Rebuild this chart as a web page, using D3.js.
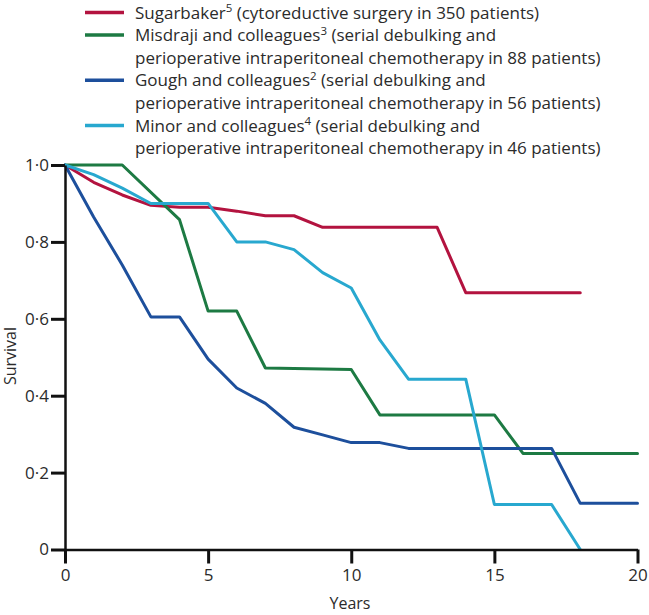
<!DOCTYPE html>
<html>
<head>
<meta charset="utf-8">
<script src="https://cdn.jsdelivr.net/npm/d3@7"></script>
<style>
  body { margin: 0; background: #fff; }
  svg text { font-family: "Open Sans", "Noto Sans", sans-serif; fill: #2b2b2b; }
</style>
</head>
<body>
<svg id="chart" width="649" height="615"></svg>
<script>
// ---- data ----
const sugarbakerYears  = [0, 1, 2, 3, 4, 5, 6, 7, 8, 9, 13, 14, 18];
const sugarbakerValues = [1.0, 0.955, 0.922, 0.895, 0.89, 0.89, 0.88, 0.868, 0.868, 0.838, 0.838, 0.668, 0.668];

const misdrajiYears  = [0, 2, 4, 5, 6, 7, 10, 11, 15, 16, 20];
const misdrajiValues = [1.0, 1.0, 0.858, 0.62, 0.62, 0.472, 0.468, 0.35, 0.35, 0.25, 0.25];

const goughYears  = [0, 1, 2, 3, 4, 5, 6, 7, 8, 9, 10, 11, 12, 17, 18, 20];
const goughValues = [1.0, 0.865, 0.74, 0.605, 0.605, 0.495, 0.42, 0.38, 0.318, 0.298, 0.278, 0.278, 0.263, 0.263, 0.12, 0.12];

const minorYears  = [0, 1, 2, 3, 5, 6, 7, 8, 9, 10, 11, 12, 14, 15, 17, 18];
const minorValues = [1.0, 0.975, 0.94, 0.9, 0.9, 0.8, 0.8, 0.78, 0.72, 0.68, 0.545, 0.443, 0.443, 0.117, 0.117, 0.0];

const seriesNames = ["Sugarbaker", "Misdraji and colleagues", "Gough and colleagues", "Minor and colleagues"];
const seriesRefs = ["5", "3", "2", "4"];
const seriesColors = ["#b3133f", "#1d7a43", "#1d4f9c", "#28a8cf"];
const legendLines = [
  ["(cytoreductive surgery in 350 patients)"],
  ["(serial debulking and", "perioperative intraperitoneal chemotherapy in 88 patients)"],
  ["(serial debulking and", "perioperative intraperitoneal chemotherapy in 56 patients)"],
  ["(serial debulking and", "perioperative intraperitoneal chemotherapy in 46 patients)"]
];

const xTicks = [0, 5, 10, 15, 20];
const yTicks = [0, 0.2, 0.4, 0.6, 0.8, 1.0];
const yTickLabels = ["0", "0·2", "0·4", "0·6", "0·8", "1·0"];
const xTitle = "Years";
const yTitle = "Survival";

// ---- chart ----
const svg = d3.select("#chart");
const x = d3.scaleLinear().domain([0, 20]).range([65, 637.5]);
const y = d3.scaleLinear().domain([0, 1]).range([549.5, 165]);

const series = [
  sugarbakerYears.map((t, i) => [t, sugarbakerValues[i]]),
  misdrajiYears.map((t, i) => [t, misdrajiValues[i]]),
  goughYears.map((t, i) => [t, goughValues[i]]),
  minorYears.map((t, i) => [t, minorValues[i]])
];

const line = d3.line().x(d => x(d[0])).y(d => y(d[1]));

[0, 1, 2, 3].forEach(i => {
  svg.append("path")
    .datum(series[i])
    .attr("fill", "none")
    .attr("stroke", seriesColors[i])
    .attr("stroke-width", 3)
    .attr("stroke-linejoin", "round")
    .attr("stroke-linecap", "round")
    .attr("d", line);
});

// axes
const xAxis = d3.axisBottom(x).tickValues(xTicks).tickSize(14).tickSizeOuter(0).tickPadding(5).tickFormat(d3.format("d"));
const gx = svg.append("g").attr("transform", `translate(0,${y(0)})`).call(xAxis);
gx.select(".domain").attr("stroke", "#111").attr("stroke-width", 2.5);
gx.selectAll(".tick line").attr("stroke", "#111").attr("stroke-width", 3);
gx.selectAll(".tick text").attr("font-size", 17).attr("font-family", "'Open Sans', sans-serif").attr("fill", "#2b2b2b");

const yAxis = d3.axisLeft(y).tickValues(yTicks).tickSize(14).tickSizeOuter(0).tickPadding(2)
  .tickFormat((d, i) => yTickLabels[i]);
const gy = svg.append("g").attr("transform", `translate(${x(0)},0)`).call(yAxis);
gy.select(".domain").attr("stroke", "#111").attr("stroke-width", 2.5);
gy.selectAll(".tick line").attr("stroke", "#111").attr("stroke-width", 3);
gy.selectAll(".tick text").attr("font-size", 17).attr("font-family", "'Open Sans', sans-serif").attr("fill", "#2b2b2b");

// axis titles
svg.append("text").attr("x", 350).attr("y", 609).attr("text-anchor", "middle")
  .attr("font-size", 16).text(xTitle);
svg.append("text").attr("transform", "translate(16,356) rotate(-90)").attr("text-anchor", "middle")
  .attr("font-size", 16).text(yTitle);

// legend
const lineH = 22.6;
const fs = 17;
let row = 0;
seriesNames.forEach((name, i) => {
  const cy = 12.5 + row * lineH;
  svg.append("line").attr("x1", 85).attr("x2", 124).attr("y1", cy).attr("y2", cy)
    .attr("stroke", seriesColors[i]).attr("stroke-width", 3.5);
  const t = svg.append("text").attr("x", 135).attr("y", cy + 6).attr("font-size", fs);
  t.append("tspan").text(name);
  t.append("tspan").attr("font-size", 11.5).attr("dy", -6.5).text(seriesRefs[i]);
  t.append("tspan").attr("dy", 6.5).text(" " + legendLines[i][0]);
  row++;
  for (let k = 1; k < legendLines[i].length; k++) {
    const cy2 = 12.5 + row * lineH;
    svg.append("text").attr("x", 135).attr("y", cy2 + 6).attr("font-size", fs).text(legendLines[i][k]);
    row++;
  }
});
</script>
</body>
</html>
